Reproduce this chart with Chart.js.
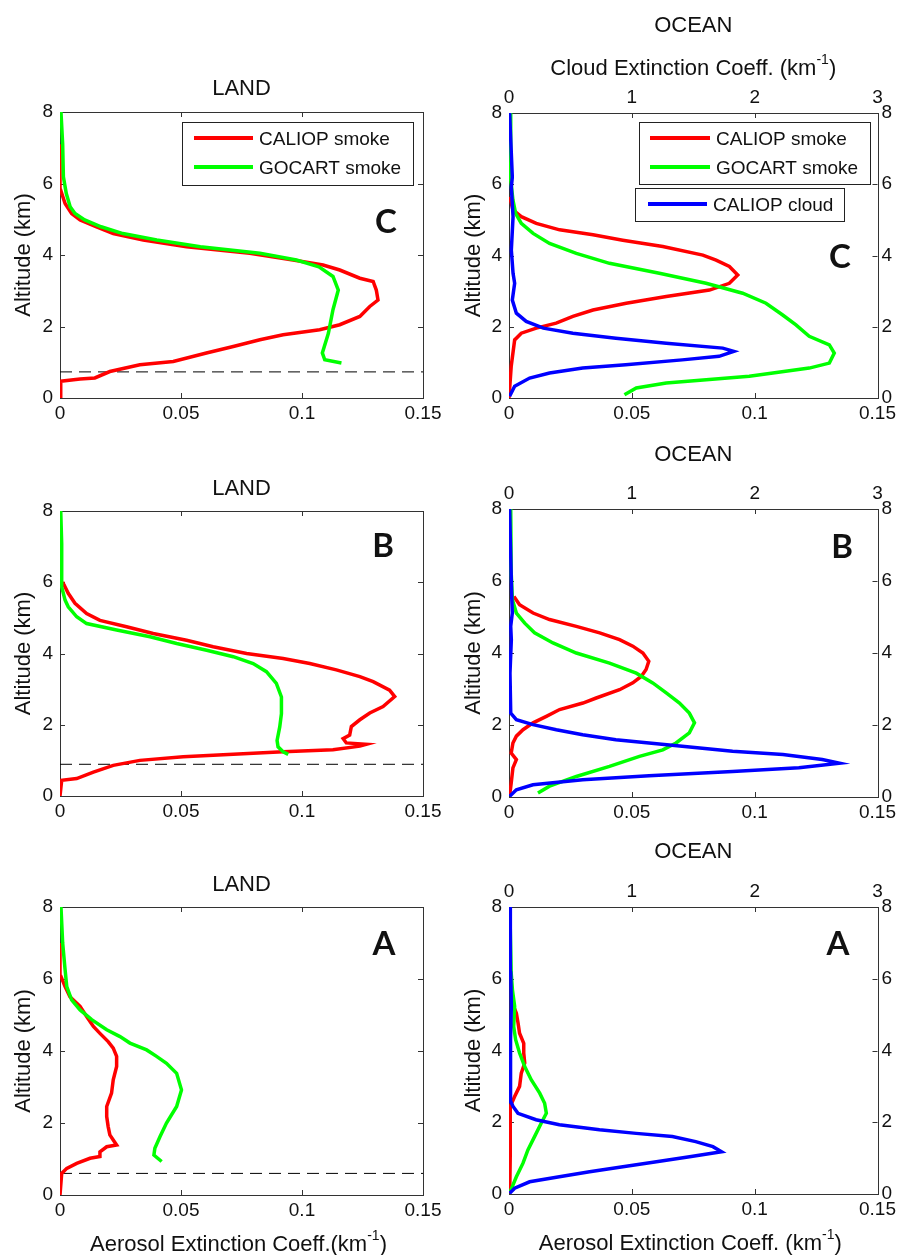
<!DOCTYPE html>
<html>
<head>
<meta charset="utf-8">
<script src="https://cdn.jsdelivr.net/npm/chart.js@4.4.1/dist/chart.umd.min.js"></script>
<style>
  html, body { margin: 0; padding: 0; background: #fff; }
  #wrap { position: relative; width: 900px; height: 1255px; }
  #wrap canvas { position: absolute; left: 0; top: 0; }
</style>
</head>
<body>
<div id="wrap">
  <canvas id="landC" width="900" height="1255"></canvas>
  <canvas id="oceanC" width="900" height="1255"></canvas>
  <canvas id="landB" width="900" height="1255"></canvas>
  <canvas id="oceanB" width="900" height="1255"></canvas>
  <canvas id="landA" width="900" height="1255"></canvas>
  <canvas id="oceanA" width="900" height="1255"></canvas>
</div>
<script>
// ---- tick labels ----
const xTickLabels = ['0', '0.05', '0.1', '0.15'];
const cloudTickLabels = ['0', '1', '2', '3'];
const altTickLabels = ['0', '2', '4', '6', '8'];

// ---- LAND C ----
const landC_caliopAlt = [0, 0.47, 0.53, 0.56, 0.74, 0.93, 1.02, 1.26, 1.44, 1.63, 1.77, 1.91, 2.05, 2.28, 2.56, 2.74, 3.02, 3.26, 3.35, 3.58, 3.72, 3.86, 4.05, 4.23, 4.42, 4.6, 4.79, 4.98, 5.16, 5.44, 5.81, 7.1];
const landC_caliopExt = [0, 0.0003, 0.0083, 0.0144, 0.0206, 0.033, 0.0468, 0.0605, 0.0716, 0.0826, 0.0922, 0.1073, 0.1156, 0.1239, 0.128, 0.1314, 0.1307, 0.1294, 0.1239, 0.1156, 0.1087, 0.0963, 0.0784, 0.0523, 0.0344, 0.022, 0.0151, 0.0083, 0.0048, 0.0021, 0.0003, 0];
const landC_gocartAlt = [0.98, 1.07, 1.26, 1.81, 2.47, 3.02, 3.4, 3.67, 3.86, 4.05, 4.23, 4.42, 4.6, 4.79, 4.98, 5.16, 5.35, 5.72, 6.19, 7.1, 8];
const landC_gocartExt = [0.1163, 0.1094, 0.1084, 0.1109, 0.1128, 0.115, 0.1128, 0.107, 0.0977, 0.0826, 0.058, 0.040, 0.026, 0.017, 0.0102, 0.0062, 0.0042, 0.0026, 0.0014, 0.0011, 0.0004];
const landC_pbl = 0.73;

// ---- OCEAN C ----
const oceanC_caliopAlt = [0, 0.89, 1.63, 1.82, 1.96, 2.1, 2.29, 2.47, 2.66, 2.85, 3.03, 3.22, 3.45, 3.69, 3.87, 4.01, 4.25, 4.43, 4.58, 4.72, 4.9, 5.09, 5.28, 5.65];
const oceanC_caliopExt = [0, 0.0009, 0.0023, 0.005, 0.0111, 0.0192, 0.026, 0.0342, 0.0477, 0.064, 0.0816, 0.0897, 0.0931, 0.0897, 0.0843, 0.0789, 0.0626, 0.0463, 0.0342, 0.0206, 0.0111, 0.005, 0.0016, 0.0003];
const oceanC_gocartAlt = [0.09, 0.28, 0.42, 0.61, 0.84, 0.98, 1.26, 1.49, 1.73, 2.05, 2.33, 2.66, 2.94, 3.22, 3.5, 3.78, 4.06, 4.34, 4.62, 4.9, 5.18, 5.56, 6.12, 8];
const oceanC_gocartExt = [0.047, 0.0518, 0.064, 0.0978, 0.1222, 0.1304, 0.1324, 0.1304, 0.1222, 0.1168, 0.1114, 0.1046, 0.0951, 0.0802, 0.0612, 0.0409, 0.0274, 0.0165, 0.0098, 0.005, 0.0027, 0.0016, 0.0007, 0.0007];
const oceanC_cloudAlt = [0.05, 0.33, 0.56, 0.7, 0.84, 0.93, 1.07, 1.17, 1.31, 1.4, 1.54, 1.68, 1.82, 1.96, 2.15, 2.38, 2.75, 3.22, 3.5, 4.15, 5.09, 5.93, 6.2, 8];
const oceanC_cloudExt = [0.005, 0.046, 0.168, 0.33, 0.6, 0.95, 1.41, 1.71, 1.83, 1.74, 1.28, 0.87, 0.52, 0.28, 0.14, 0.06, 0.027, 0.046, 0.033, 0.019, 0.033, 0.019, 0.027, 0.005];

// ---- LAND B ----
const landB_caliopAlt = [0, 0.44, 0.49, 0.67, 0.86, 1.0, 1.1, 1.17, 1.24, 1.3, 1.4, 1.45, 1.49, 1.61, 1.71, 1.95, 2.14, 2.33, 2.51, 2.79, 2.97, 3.21, 3.35, 3.54, 3.72, 3.86, 4.0, 4.19, 4.37, 4.56, 4.75, 4.93, 5.12, 5.41, 5.69, 5.92, 6.01];
const landB_caliopExt = [0, 0.0007, 0.0069, 0.0138, 0.022, 0.033, 0.0509, 0.0716, 0.0922, 0.1128, 0.1239, 0.1266, 0.1183, 0.117, 0.1197, 0.1204, 0.1239, 0.128, 0.1335, 0.1383, 0.1362, 0.1294, 0.1239, 0.1142, 0.1032, 0.0922, 0.0771, 0.0633, 0.0523, 0.0385, 0.0275, 0.0165, 0.011, 0.0062, 0.0034, 0.0017, 0.0011];
const landB_gocartAlt = [1.17, 1.24, 1.38, 1.56, 1.94, 2.31, 2.78, 3.16, 3.49, 3.72, 3.91, 4.09, 4.28, 4.47, 4.66, 4.84, 5.03, 5.31, 5.5, 5.87, 7.09, 8];
const landB_gocartExt = [0.0943, 0.0922, 0.0901, 0.0897, 0.0908, 0.0915, 0.0915, 0.0894, 0.0853, 0.0798, 0.0716, 0.0606, 0.0482, 0.0372, 0.0234, 0.011, 0.0069, 0.0034, 0.0021, 0.0007, 0.0007, 0.0003];
const landB_pbl = 0.89;

// ---- OCEAN B ----
const oceanB_caliopAlt = [0.06, 0.39, 0.81, 1.04, 1.22, 1.5, 1.69, 1.87, 2.06, 2.24, 2.43, 2.61, 2.75, 2.98, 3.17, 3.35, 3.54, 3.77, 4.0, 4.19, 4.37, 4.56, 4.74, 4.93, 5.11, 5.34, 5.57];
const oceanB_caliopExt = [0.0003, 0.0009, 0.0016, 0.003, 0.0009, 0.0016, 0.003, 0.0057, 0.0098, 0.0152, 0.0206, 0.0301, 0.0355, 0.045, 0.0504, 0.0538, 0.0558, 0.0569, 0.0545, 0.0504, 0.045, 0.0369, 0.0274, 0.0165, 0.0098, 0.0043, 0.002];
const oceanB_gocartAlt = [0.11, 0.3, 0.57, 0.85, 1.13, 1.31, 1.5, 1.78, 2.06, 2.33, 2.61, 2.89, 3.17, 3.44, 3.72, 4.0, 4.28, 4.56, 4.83, 5.11, 5.48, 6.22, 8];
const oceanB_gocartExt = [0.0118, 0.0165, 0.0274, 0.0409, 0.0531, 0.0626, 0.068, 0.0734, 0.0755, 0.0734, 0.0694, 0.064, 0.0585, 0.0518, 0.0409, 0.0274, 0.0179, 0.0104, 0.0064, 0.003, 0.0014, 0.0009, 0.0007];
const oceanB_cloudAlt = [0.02, 0.2, 0.34, 0.48, 0.59, 0.71, 0.81, 0.94, 1.04, 1.18, 1.27, 1.41, 1.5, 1.59, 1.73, 1.87, 2.01, 2.15, 2.33, 3.44, 4.37, 4.74, 5.11, 5.57, 8];
const oceanB_cloudExt = [0.005, 0.06, 0.195, 0.6, 1.14, 1.82, 2.36, 2.69, 2.55, 2.23, 1.82, 1.41, 1.14, 0.87, 0.6, 0.385, 0.195, 0.06, 0.014, 0.008, 0.019, 0.014, 0.027, 0.022, 0.005];

// ---- LAND A ----
const landA_caliopAlt = [0, 0.6, 0.74, 0.88, 1.02, 1.07, 1.2, 1.34, 1.39, 1.53, 1.67, 1.9, 2.18, 2.46, 2.83, 3.2, 3.57, 3.85, 4.08, 4.26, 4.49, 4.68, 4.96, 5.24, 5.51, 5.79, 6.07, 7.0];
const landA_caliopExt = [0, 0.0007, 0.0028, 0.0069, 0.0124, 0.0165, 0.0165, 0.0193, 0.0234, 0.022, 0.0206, 0.0199, 0.0193, 0.0193, 0.0213, 0.022, 0.0234, 0.0234, 0.022, 0.0199, 0.0165, 0.0138, 0.011, 0.0083, 0.0041, 0.0021, 0.0004, 0];
const landA_gocartAlt = [0.93, 1.11, 1.3, 1.62, 2.0, 2.46, 2.92, 3.38, 3.66, 3.85, 4.03, 4.22, 4.4, 4.59, 4.87, 5.14, 5.42, 5.79, 6.26, 7.0, 8];
const landA_gocartExt = [0.042, 0.0388, 0.0392, 0.0413, 0.044, 0.0482, 0.0502, 0.0482, 0.044, 0.0399, 0.0358, 0.0289, 0.0248, 0.0193, 0.0131, 0.0083, 0.0048, 0.0028, 0.0021, 0.0011, 0.0004];
const landA_pbl = 0.6;

// ---- OCEAN A ----
const oceanA_caliopAlt = [0.02, 1.04, 2.44, 2.72, 3.0, 3.37, 3.65, 3.93, 4.2, 4.48, 4.76, 5.04, 5.23];
const oceanA_caliopExt = [0.0003, 0.0005, 0.0005, 0.0023, 0.0043, 0.005, 0.0064, 0.006, 0.006, 0.0043, 0.0037, 0.003, 0.0019];
const oceanA_gocartAlt = [0.07, 0.48, 0.86, 1.23, 1.6, 1.97, 2.25, 2.53, 2.81, 3.18, 3.55, 3.93, 4.3, 4.67, 5.23, 5.69, 6.16, 7.46];
const oceanA_gocartExt = [0.0005, 0.003, 0.0057, 0.0077, 0.0104, 0.0131, 0.0152, 0.0145, 0.0125, 0.0091, 0.0064, 0.0043, 0.0027, 0.0019, 0.0023, 0.0014, 0.0009, 0.0005];
const oceanA_cloudAlt = [0.02, 0.16, 0.34, 0.48, 0.62, 0.76, 0.9, 1.04, 1.18, 1.32, 1.46, 1.6, 1.69, 1.79, 1.93, 2.07, 2.25, 2.44, 2.58, 3.37, 4.3, 5.23, 6.16, 8];
const oceanA_cloudExt = [0.005, 0.046, 0.168, 0.41, 0.656, 0.927, 1.2, 1.47, 1.73, 1.66, 1.52, 1.33, 1.035, 0.737, 0.41, 0.22, 0.073, 0.033, 0.014, 0.011, 0.014, 0.019, 0.014, 0.011];

// ------------------------------
const FONT = '"Liberation Sans", Arial, sans-serif';
const RED = '#ff0000', GREEN = '#00ff00', BLUE = '#0000ff';
const INK = '#111';

function pts(alt, ext) {
    return alt.map((a, i) => ({ x: ext[i], y: a }));
}

function profile(label, alt, ext, color, axis) {
    return {
        label: label,
        data: pts(alt, ext),
        borderColor: color,
        backgroundColor: color,
        borderWidth: 3.5,
        pointRadius: 0,
        showLine: true,
        tension: 0,
        xAxisID: axis || 'x'
    };
}

// dashed boundary-layer line across the whole x range
function pblLine(alt) {
    return {
        label: 'PBL',
        data: [{ x: 0, y: alt }, { x: 0.15, y: alt }],
        borderColor: '#000',
        borderWidth: 1,
        borderDash: [12, 7],
        pointRadius: 0,
        showLine: true
    };
}

function capText(ctx, str, x, yc, size, weight, family, align) {
    ctx.font = (weight || '') + ' ' + size + 'px ' + (family || FONT);
    ctx.textAlign = align || 'center';
    ctx.textBaseline = 'alphabetic';
    ctx.fillText(str, x, yc + size * 0.36);
}

function supText(ctx, pre, sup, post, cx, yc, size) {
    const big = size + 'px ' + FONT, small = Math.round(size * 0.62) + 'px ' + FONT;
    ctx.font = big; const w1 = ctx.measureText(pre).width, w3 = ctx.measureText(post).width;
    ctx.font = small; const w2 = ctx.measureText(sup).width;
    let x = cx - (w1 + w2 + w3) / 2;
    const base = yc + size * 0.36;
    ctx.textAlign = 'left'; ctx.textBaseline = 'alphabetic';
    ctx.font = big; ctx.fillText(pre, x, base); x += w1;
    ctx.font = small; ctx.fillText(sup, x, base - size * 0.5); x += w2;
    ctx.font = big; ctx.fillText(post, x, base);
}

function makeDeco(d) {
    return {
        id: 'deco',
        beforeDatasetsDraw(chart) {
            const { ctx, chartArea: a } = chart;
            const x = chart.scales.x, y = chart.scales.y;
            const xt = chart.scales.x2 || x, yr = chart.scales.y2 || y;
            ctx.save();
            ctx.strokeStyle = '#333';
            ctx.lineWidth = 1;
            ctx.strokeRect(Math.round(a.left) + 0.5, Math.round(a.top) + 0.5,
                Math.round(a.right - a.left), Math.round(a.bottom - a.top));
            ctx.beginPath();
            // inward tick marks, MATLAB style
            x.ticks.forEach(t => {
                const p = Math.round(x.getPixelForValue(t.value)) + 0.5;
                ctx.moveTo(p, a.bottom); ctx.lineTo(p, a.bottom - 5);
            });
            xt.ticks.forEach(t => {
                const p = Math.round(xt.getPixelForValue(t.value)) + 0.5;
                ctx.moveTo(p, a.top); ctx.lineTo(p, a.top + 5);
            });
            y.ticks.forEach(t => {
                const p = Math.round(y.getPixelForValue(t.value)) + 0.5;
                ctx.moveTo(a.left, p); ctx.lineTo(a.left + 5, p);
            });
            yr.ticks.forEach(t => {
                const p = Math.round(yr.getPixelForValue(t.value)) + 0.5;
                ctx.moveTo(a.right, p); ctx.lineTo(a.right - 5, p);
            });
            ctx.stroke();
            ctx.restore();
        },
        afterDraw(chart) {
            const { ctx, chartArea: a } = chart;
            ctx.save();
            ctx.fillStyle = INK;
            const cx = (a.left + a.right) / 2;
            capText(ctx, d.title, cx, d.titleY, 22);
            if (d.cloudTitleY) {
                supText(ctx, 'Cloud Extinction Coeff. (km', '-1', ')', cx, d.cloudTitleY, 22);
            }
            if (d.xTitle) {
                supText(ctx, d.xTitle, '-1', ')', cx - 3, a.bottom + 48, 22);
            }
            // rotated y title
            ctx.save();
            ctx.translate(d.yLabelX, (a.top + a.bottom) / 2);
            ctx.rotate(-Math.PI / 2);
            capText(ctx, 'Altitude (km)', 0, 0, 22);
            ctx.restore();
            // panel letter
            capText(ctx, d.letter, d.letterX, d.letterY, 33, 'bold', 'Lato, "Open Sans", sans-serif');
            // legends
            (d.legends || []).forEach(lg => {
                const [x0, y0, x1, y1] = lg.box;
                ctx.fillStyle = '#fff';
                ctx.fillRect(x0, y0, x1 - x0, y1 - y0);
                ctx.strokeStyle = '#222';
                ctx.lineWidth = 1;
                ctx.strokeRect(x0 + 0.5, y0 + 0.5, x1 - x0, y1 - y0);
                lg.rows.forEach(r => {
                    ctx.strokeStyle = r.color;
                    ctx.lineWidth = 4;
                    ctx.beginPath();
                    ctx.moveTo(lg.lineX[0], r.y);
                    ctx.lineTo(lg.lineX[1], r.y);
                    ctx.stroke();
                    ctx.fillStyle = INK;
                    capText(ctx, r.label, lg.textX, r.y, 19, '', FONT, 'left');
                });
            });
            ctx.restore();
        }
    };
}

function axisX(pos, min, max, step, labels, pad) {
    return {
        type: 'linear', position: pos, min: min, max: max,
        grid: { display: false, drawTicks: false },
        border: { display: false },
        ticks: {
            stepSize: step, padding: pad, color: INK, autoSkip: false, maxRotation: 0,
            font: { family: FONT, size: 19 },
            callback: (v, i) => labels[i]
        },
        afterFit: s => { s.height = 30; }
    };
}

function axisY(pos, width, pad) {
    return {
        type: 'linear', position: pos, min: 0, max: 8,
        grid: { display: false, drawTicks: false },
        border: { display: false },
        ticks: {
            stepSize: 2, padding: pad, color: INK, autoSkip: false,
            font: { family: FONT, size: 19 },
            callback: (v, i) => altTickLabels[i]
        },
        afterFit: s => { s.width = width; }
    };
}

// area = [left, top, right, bottom] of the plot box on the page
function makePanel(id, area, ocean, datasets, deco) {
    const [l, t, r, b] = area;
    const scales = {
        x: axisX('bottom', 0, 0.15, 0.05, xTickLabels, 4),
        y: axisY('left', 59, 7)
    };
    if (ocean) {
        scales.x2 = axisX('top', 0, 3, 1, cloudTickLabels, 4);
        scales.y2 = axisY('right', 22, 4);
    }
    new Chart(document.getElementById(id), {
        type: 'scatter',
        data: { datasets: datasets },
        options: {
            responsive: false,
            animation: false,
            devicePixelRatio: 1,
            events: [],
            layout: {
                padding: {
                    left: l - 59,
                    top: t - (ocean ? 30 : 0),
                    right: 900 - r - (ocean ? 22 : 0),
                    bottom: 1255 - b - 30
                }
            },
            plugins: { legend: { display: false }, tooltip: { enabled: false } },
            scales: scales
        },
        plugins: [makeDeco(deco)]
    });
}

const smokeLegendRows = (y1, y2) => [
    { label: 'CALIOP smoke', color: RED, y: y1 },
    { label: 'GOCART smoke', color: GREEN, y: y2 }
];

// ---------------- TOP ROW (C) ----------------
makePanel('landC', [60, 112, 423, 398], false, [
    profile('GOCART smoke', landC_gocartAlt, landC_gocartExt, GREEN),
    profile('CALIOP smoke', landC_caliopAlt, landC_caliopExt, RED),
    pblLine(landC_pbl)
], {
    title: 'LAND', titleY: 87, letter: 'C', letterX: 386, letterY: 221, yLabelX: 22,
    legends: [{ box: [182, 122, 413, 185], lineX: [194, 253], textX: 259, rows: smokeLegendRows(138, 167) }]
});

makePanel('oceanC', [509, 113, 878, 398], true, [
    profile('CALIOP cloud', oceanC_cloudAlt, oceanC_cloudExt, BLUE, 'x2'),
    profile('GOCART smoke', oceanC_gocartAlt, oceanC_gocartExt, GREEN),
    profile('CALIOP smoke', oceanC_caliopAlt, oceanC_caliopExt, RED)
], {
    title: 'OCEAN', titleY: 24, cloudTitleY: 67, letter: 'C', letterX: 840, letterY: 256, yLabelX: 472,
    legends: [
        { box: [639, 122, 870, 184], lineX: [650, 710], textX: 716, rows: smokeLegendRows(138, 167) },
        { box: [635, 188, 844, 221], lineX: [648, 707], textX: 713, rows: [{ label: 'CALIOP cloud', color: BLUE, y: 204 }] }
    ]
});

// ---------------- MIDDLE ROW (B) ----------------
makePanel('landB', [60, 511, 423, 796], false, [
    profile('GOCART smoke', landB_gocartAlt, landB_gocartExt, GREEN),
    profile('CALIOP smoke', landB_caliopAlt, landB_caliopExt, RED),
    pblLine(landB_pbl)
], { title: 'LAND', titleY: 487, letter: 'B', letterX: 383, letterY: 545, yLabelX: 22 });

makePanel('oceanB', [509, 509, 878, 797], true, [
    profile('CALIOP cloud', oceanB_cloudAlt, oceanB_cloudExt, BLUE, 'x2'),
    profile('GOCART smoke', oceanB_gocartAlt, oceanB_gocartExt, GREEN),
    profile('CALIOP smoke', oceanB_caliopAlt, oceanB_caliopExt, RED)
], { title: 'OCEAN', titleY: 453, letter: 'B', letterX: 842, letterY: 546, yLabelX: 472 });

// ---------------- BOTTOM ROW (A) ----------------
makePanel('landA', [60, 907, 423, 1195], false, [
    profile('GOCART smoke', landA_gocartAlt, landA_gocartExt, GREEN),
    profile('CALIOP smoke', landA_caliopAlt, landA_caliopExt, RED),
    pblLine(landA_pbl)
], { title: 'LAND', titleY: 883, letter: 'A', letterX: 384, letterY: 943, yLabelX: 22,
     xTitle: 'Aerosol Extinction Coeff.(km' });

makePanel('oceanA', [509, 907, 878, 1194], true, [
    profile('CALIOP cloud', oceanA_cloudAlt, oceanA_cloudExt, BLUE, 'x2'),
    profile('GOCART smoke', oceanA_gocartAlt, oceanA_gocartExt, GREEN),
    profile('CALIOP smoke', oceanA_caliopAlt, oceanA_caliopExt, RED)
], { title: 'OCEAN', titleY: 850, letter: 'A', letterX: 838, letterY: 943, yLabelX: 472,
     xTitle: 'Aerosol Extinction Coeff. (km' });
</script>
</body>
</html>
